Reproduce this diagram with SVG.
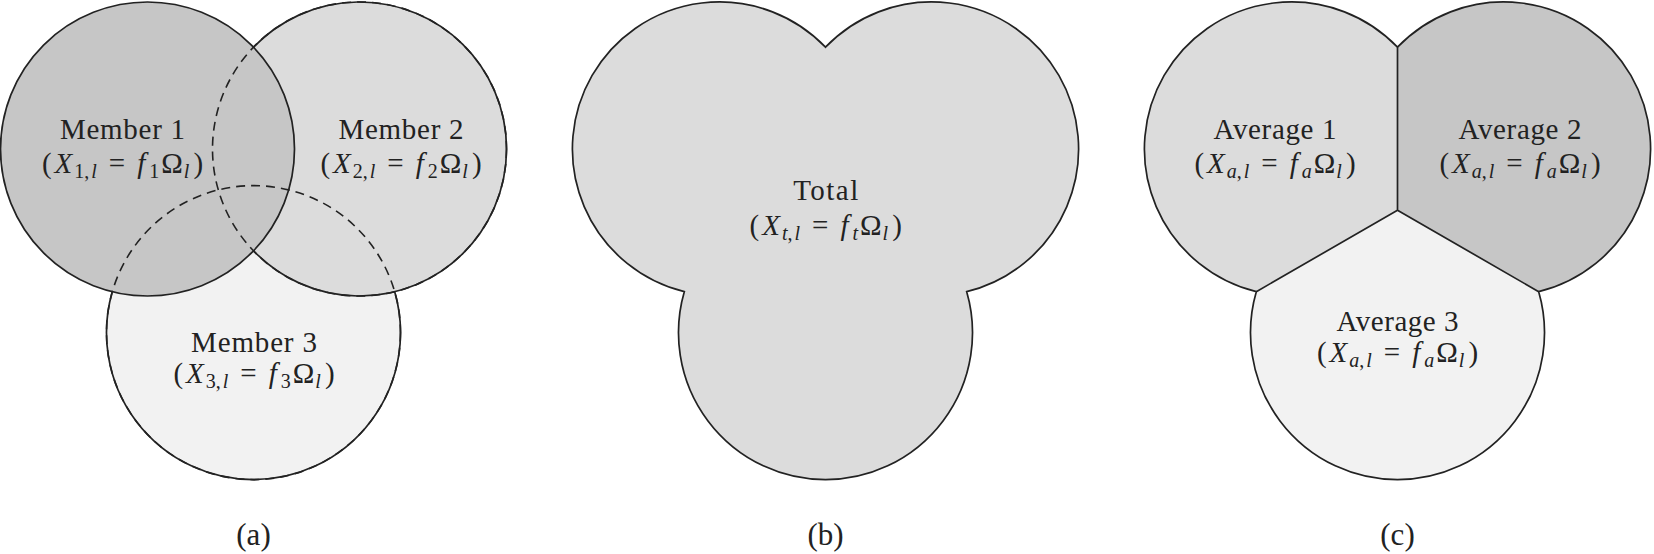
<svg xmlns="http://www.w3.org/2000/svg" width="1654" height="554" viewBox="0 0 1654 554">
<style>
  .dk{fill:#c6c6c6}
  .md{fill:#dcdcdc}
  .lt{fill:#f2f2f2}
  .ol{fill:none;stroke:#222;stroke-width:1.7}
  .ds{fill:none;stroke:#222;stroke-width:1.6;stroke-dasharray:9 6}
  text{font-family:"Liberation Serif","Times New Roman",serif;font-size:29px;fill:#222;text-anchor:middle}
  .i{font-style:italic}
  .s{font-size:20px}
  .lab{font-size:31px}
</style>
<rect width="1654" height="554" fill="#fff"/>

<g id="panel-a">
  <g id="fills-a">
    <circle class="lt" cx="253.5" cy="332.6" r="147"/>
    <circle class="md" cx="359.5" cy="149" r="147"/>
    <circle class="dk" cx="147.5" cy="149" r="147"/>
  </g>
  <g id="outlines-a">
    <circle class="ds" cx="359.5" cy="149" r="147"/>
    <circle class="ds" cx="253.5" cy="332.6" r="147"/>
    <circle class="ol" cx="147.5" cy="149" r="147"/>
    <path class="ol" d="M253.5,47.2 A147,147 0 1 1 253.5,250.8"/>
    <path class="ol" d="M112.3,291.7 A147,147 0 1 0 394.7,291.7"/>
  </g>
  <g id="member1">
    <text x="122.5" y="139" textLength="125" lengthAdjust="spacing">Member 1</text>
    <text x="122.5" y="173">(<tspan class="i" dx="3">X</tspan><tspan class="s" dx="2" dy="5">1,</tspan><tspan class="s i" dx="2">l</tspan><tspan dy="-5" dx="12">=</tspan><tspan class="i" dx="12">f</tspan><tspan class="s" dy="5" dx="4">1</tspan><tspan dy="-5" dx="2">Ω</tspan><tspan class="s i" dy="5" dx="1">l</tspan><tspan dy="-5" dx="4">)</tspan></text>
  </g>
  <g id="member2">
    <text x="401" y="139" textLength="125" lengthAdjust="spacing">Member 2</text>
    <text x="401" y="173">(<tspan class="i" dx="3">X</tspan><tspan class="s" dx="2" dy="5">2,</tspan><tspan class="s i" dx="2">l</tspan><tspan dy="-5" dx="12">=</tspan><tspan class="i" dx="12">f</tspan><tspan class="s" dy="5" dx="4">2</tspan><tspan dy="-5" dx="2">Ω</tspan><tspan class="s i" dy="5" dx="1">l</tspan><tspan dy="-5" dx="4">)</tspan></text>
  </g>
  <g id="member3">
    <text x="254" y="351.7" textLength="126" lengthAdjust="spacing">Member 3</text>
    <text x="254" y="383.3">(<tspan class="i" dx="3">X</tspan><tspan class="s" dx="2" dy="5">3,</tspan><tspan class="s i" dx="2">l</tspan><tspan dy="-5" dx="12">=</tspan><tspan class="i" dx="12">f</tspan><tspan class="s" dy="5" dx="4">3</tspan><tspan dy="-5" dx="2">Ω</tspan><tspan class="s i" dy="5" dx="1">l</tspan><tspan dy="-5" dx="4">)</tspan></text>
  </g>
  <text class="lab" x="253.5" y="545">(a)</text>
</g>

<g id="panel-b">
  <g id="total">
    <path class="md" d="M825.5,47.2 A147,147 0 1 0 684.3,291.7 A147,147 0 1 0 966.7,291.7 A147,147 0 1 0 825.5,47.2 Z"/>
    <path class="ol" d="M825.5,47.2 A147,147 0 1 0 684.3,291.7 A147,147 0 1 0 966.7,291.7 A147,147 0 1 0 825.5,47.2 Z"/>
    <text x="825.7" y="200" textLength="65" lengthAdjust="spacing">Total</text>
    <text x="825.7" y="234.5">(<tspan class="i" dx="3">X</tspan><tspan class="s i" dx="2" dy="5">t</tspan><tspan class="s">,</tspan><tspan class="s i" dx="2">l</tspan><tspan dy="-5" dx="12">=</tspan><tspan class="i" dx="12">f</tspan><tspan class="s i" dy="5" dx="4">t</tspan><tspan dy="-5" dx="2">Ω</tspan><tspan class="s i" dy="5" dx="1">l</tspan><tspan dy="-5" dx="4">)</tspan></text>
  </g>
  <text class="lab" x="825.5" y="545">(b)</text>
</g>

<g id="panel-c">
  <g id="average1">
    <path class="md" d="M1397.5,47.2 A147,147 0 1 0 1256.3,291.7 L1397.5,210.2 Z"/>
    <text x="1275" y="139" textLength="123" lengthAdjust="spacing">Average 1</text>
    <text x="1275" y="173.3">(<tspan class="i" dx="3">X</tspan><tspan class="s i" dx="2" dy="5">a</tspan><tspan class="s">,</tspan><tspan class="s i" dx="2">l</tspan><tspan dy="-5" dx="12">=</tspan><tspan class="i" dx="12">f</tspan><tspan class="s i" dy="5" dx="4">a</tspan><tspan dy="-5" dx="2">Ω</tspan><tspan class="s i" dy="5" dx="1">l</tspan><tspan dy="-5" dx="4">)</tspan></text>
  </g>
  <g id="average2">
    <path class="dk" d="M1397.5,47.2 A147,147 0 1 1 1538.7,291.7 L1397.5,210.2 Z"/>
    <text x="1520" y="139" textLength="123" lengthAdjust="spacing">Average 2</text>
    <text x="1520" y="173.3">(<tspan class="i" dx="3">X</tspan><tspan class="s i" dx="2" dy="5">a</tspan><tspan class="s">,</tspan><tspan class="s i" dx="2">l</tspan><tspan dy="-5" dx="12">=</tspan><tspan class="i" dx="12">f</tspan><tspan class="s i" dy="5" dx="4">a</tspan><tspan dy="-5" dx="2">Ω</tspan><tspan class="s i" dy="5" dx="1">l</tspan><tspan dy="-5" dx="4">)</tspan></text>
  </g>
  <g id="average3">
    <path class="lt" d="M1256.3,291.7 A147,147 0 1 0 1538.7,291.7 L1397.5,210.2 Z"/>
    <text x="1397.5" y="330.7" textLength="122" lengthAdjust="spacing">Average 3</text>
    <text x="1397.5" y="362">(<tspan class="i" dx="3">X</tspan><tspan class="s i" dx="2" dy="5">a</tspan><tspan class="s">,</tspan><tspan class="s i" dx="2">l</tspan><tspan dy="-5" dx="12">=</tspan><tspan class="i" dx="12">f</tspan><tspan class="s i" dy="5" dx="4">a</tspan><tspan dy="-5" dx="2">Ω</tspan><tspan class="s i" dy="5" dx="1">l</tspan><tspan dy="-5" dx="4">)</tspan></text>
  </g>
  <g id="outlines-c">
    <path class="ol" d="M1397.5,47.2 A147,147 0 1 0 1256.3,291.7 A147,147 0 1 0 1538.7,291.7 A147,147 0 1 0 1397.5,47.2 Z"/>
    <path class="ol" d="M1397.5,47.2 L1397.5,210.2 L1256.3,291.7 M1397.5,210.2 L1538.7,291.7"/>
  </g>
  <text class="lab" x="1397.5" y="545">(c)</text>
</g>
</svg>
